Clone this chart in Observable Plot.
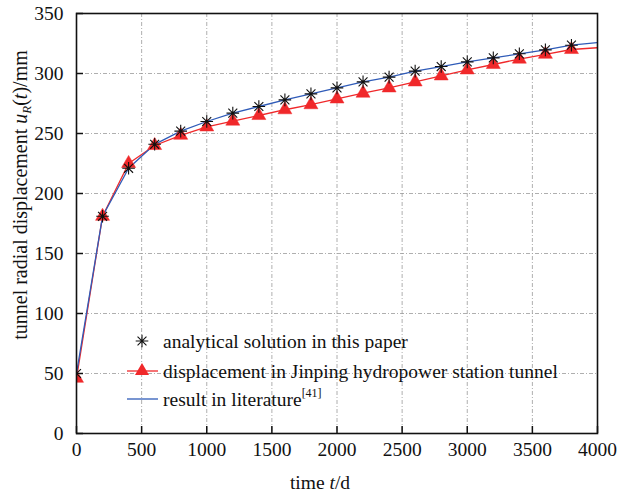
<!DOCTYPE html>
<html>
<head>
<meta charset="utf-8">
<script src="https://cdn.jsdelivr.net/npm/d3@7"></script>
<script src="https://cdn.jsdelivr.net/npm/@observablehq/plot@0.6"></script>
<style>
  html, body { margin: 0; padding: 0; background: #fff; }
  svg { display: block; }
</style>
</head>
<body>
<div id="chart"></div>
<script>
// ---- data ----
const times = [0, 200, 400, 600, 800, 1000, 1200, 1400, 1600, 1800, 2000, 2200, 2400, 2600, 2800, 3000, 3200, 3400, 3600, 3800];
const analytical = [50, 181, 221, 241, 252, 260, 267, 272.5, 278, 283, 288, 293, 297, 302, 305.8, 309.7, 313, 316.4, 319.7, 323.6];
const measured = [46, 181, 225, 240, 248.5, 255.5, 260.3, 265, 269.8, 274, 278.8, 283.6, 288, 293, 298, 303, 307.5, 312, 316, 320];
const lineTimes = [...times, 4000];
const literature = [...analytical, 325.8];
const measuredLine = [...measured, 321.5];
const xTicks = [0, 500, 1000, 1500, 2000, 2500, 3000, 3500, 4000];
const yTicks = [0, 50, 100, 150, 200, 250, 300, 350];
const legendLabels = ["analytical solution in this paper", "displacement in Jinping hydropower station tunnel", "result in literature"];

const RED = "#f0282a";
const BLUE = "#2f5bb8";

const starRows = times.map((t, i) => ({t, v: analytical[i]}));
const measRows = times.map((t, i) => ({t, v: measured[i]}));
const litRows = lineTimes.map((t, i) => ({t, v: literature[i]}));
const measLineRows = lineTimes.map((t, i) => ({t, v: measuredLine[i]}));

const star8 = {
  draw(ctx, size) {
    const r = Math.sqrt(size / Math.PI);
    const d = r * 0.7071;
    ctx.moveTo(-r, 0); ctx.lineTo(r, 0);
    ctx.moveTo(0, -r); ctx.lineTo(0, r);
    ctx.moveTo(-d, -d); ctx.lineTo(d, d);
    ctx.moveTo(-d, d); ctx.lineTo(d, -d);
  }
};

const FONT = "'Times New Roman', 'Liberation Serif', serif";
const FS = 19.5;
const grid = {stroke: "#9a9a9a", strokeOpacity: 1, strokeWidth: 0.8, strokeDasharray: "4,2,1,2"};

const chart = Plot.plot({
  width: 617,
  height: 493,
  marginLeft: 76,
  marginRight: 20,
  marginTop: 13,
  marginBottom: 60,
  style: {fontFamily: FONT, fontSize: FS + "px", color: "#111", background: "#fff"},
  x: {domain: [0, 4000]},
  y: {domain: [0, 350]},
  marks: [
    Plot.gridX(xTicks, grid),
    Plot.gridY(yTicks, grid),
    Plot.axisX(xTicks, {tickSize: -7, tickPadding: 16, tickFormat: d => String(d), label: null, strokeWidth: 1.5, fontSize: FS, fontFamily: FONT}),
    Plot.axisY(yTicks, {tickSize: -7, tickPadding: 20, tickFormat: d => String(d), label: null, strokeWidth: 1.5, fontSize: FS, fontFamily: FONT}),
    Plot.line(measLineRows, {x: "t", y: "v", stroke: RED, strokeWidth: 1.3, clip: true}),
    Plot.line(litRows, {x: "t", y: "v", stroke: BLUE, strokeWidth: 1.3, clip: true}),
    Plot.dot(measRows, {x: "t", y: "v", symbol: "triangle", r: 5.2, fill: RED, stroke: RED, strokeWidth: 0.5, clip: true}),
    Plot.dot(starRows, {x: "t", y: "v", symbol: star8, r: 6.3, stroke: "#111", strokeWidth: 1.1, fill: "none", clip: true}),
    Plot.frame({stroke: "#111", strokeWidth: 1.6})
  ]
});

document.getElementById("chart").appendChild(chart);

const svg = d3.select(chart);
// axis titles
const xl = svg.append("text")
  .attr("x", 320).attr("y", 489)
  .attr("text-anchor", "middle")
  .attr("font-family", FONT).attr("font-size", FS).attr("fill", "#111");
xl.append("tspan").text("time ");
xl.append("tspan").attr("font-style", "italic").text("t");
xl.append("tspan").text("/d");

const yl = svg.append("text")
  .attr("transform", "translate(27,195) rotate(-90)")
  .attr("text-anchor", "middle")
  .attr("font-family", FONT).attr("font-size", 20).attr("fill", "#111");
yl.append("tspan").text("tunnel radial displacement ");
yl.append("tspan").attr("font-style", "italic").text("u");
yl.append("tspan").attr("font-style", "italic").attr("font-size", 13).attr("dy", 4).text("R");
yl.append("tspan").attr("dy", -4).text("(");
yl.append("tspan").attr("font-style", "italic").text("t");
yl.append("tspan").text(")/mm");

// legend
const lg = svg.append("g").attr("font-family", FONT).attr("font-size", FS).attr("fill", "#111").attr("text-anchor", "start");
const rowsY = [341, 371, 399];
const sx = 142;
// row 1: star
const sp = d3.path(); star8.draw(sp, Math.PI * 6.3 * 6.3);
lg.append("path").attr("transform", `translate(${sx},${rowsY[0]})`)
  .attr("d", sp.toString())
  .attr("stroke", "#111").attr("stroke-width", 1.1).attr("fill", "none");
// row 2: red line + triangle
lg.append("line").attr("x1", 127).attr("x2", 158).attr("y1", rowsY[1]).attr("y2", rowsY[1]).attr("stroke", RED).attr("stroke-width", 1.3);
lg.append("path").attr("transform", `translate(${sx},${rowsY[1]})`)
  .attr("d", d3.symbol(d3.symbolTriangle, Math.PI * 5.2 * 5.2)())
  .attr("fill", RED);
// row 3: blue line
lg.append("line").attr("x1", 127).attr("x2", 158).attr("y1", rowsY[2]).attr("y2", rowsY[2]).attr("stroke", BLUE).attr("stroke-width", 1.3);

legendLabels.forEach((lab, i) => {
  const t = lg.append("text").attr("x", 163).attr("y", rowsY[i]).attr("dy", "0.35em");
  t.append("tspan").text(lab);
  if (i === 2) t.append("tspan").attr("font-size", 12).attr("dy", "-0.7em").text("[41]");
});
</script>
</body>
</html>
